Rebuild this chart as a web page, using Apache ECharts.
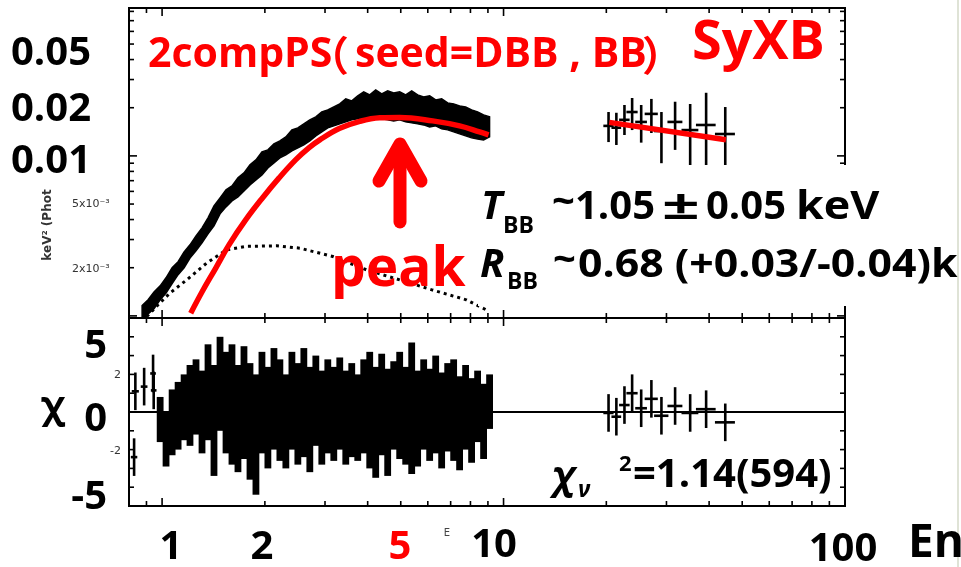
<!DOCTYPE html>
<html><head><meta charset="utf-8">
<script src="https://cdn.jsdelivr.net/npm/echarts@6/dist/echarts.min.js"></script>
<style>html,body{margin:0;padding:0;background:#fff}#c{width:961px;height:567px}</style>
</head><body><div id="c"></div>
<script>
// ---------- data ----------
// low-energy spectrum bins (keV) and flux extents (keV^2 Photons ...)
const specE = [0.874,0.910,0.947,0.987,1.027,1.070,1.114,1.160,1.207,1.257,1.309,1.363,1.419,1.478,1.539,1.602,1.668,1.737,1.809,1.883,1.961,2.041,2.126,2.213,2.304,2.400,2.498,2.601,2.708,2.820,2.936,3.057,3.183,3.314,3.451,3.593,3.741,3.895,4.056,4.223,4.397,4.578,4.768,4.964,5.169,5.383,5.603,5.836,6.076,6.328,6.588,6.861,7.143,7.435,7.743,8.062,8.395,8.741,9.101];
const specHi = [0.00116,0.00126,0.00141,0.00154,0.00173,0.00200,0.00218,0.00251,0.00278,0.00316,0.00355,0.00410,0.00487,0.00546,0.00613,0.00649,0.00729,0.00783,0.00879,0.00944,0.01059,0.01090,0.01189,0.01241,0.01314,0.01454,0.01496,0.01585,0.01679,0.01753,0.01884,0.01939,0.02024,0.02114,0.02272,0.02207,0.02371,0.02512,0.02406,0.02585,0.02441,0.02548,0.02476,0.02512,0.02406,0.02548,0.02406,0.02338,0.02371,0.02239,0.02272,0.02143,0.02114,0.02054,0.02024,0.01939,0.01884,0.01804,0.01753];
const specLo = [0.000944,0.00103,0.00111,0.00126,0.00139,0.00159,0.00181,0.00200,0.00230,0.00255,0.00286,0.00326,0.00365,0.00434,0.00480,0.00523,0.00555,0.00604,0.00659,0.00708,0.00761,0.00841,0.00904,0.00972,0.01015,0.01075,0.01122,0.01172,0.01241,0.01334,0.01413,0.01496,0.01540,0.01585,0.01631,0.01679,0.01704,0.01730,0.01730,0.01704,0.01704,0.01679,0.01655,0.01679,0.01631,0.01608,0.01585,0.01562,0.01518,0.01540,0.01475,0.01454,0.01413,0.01373,0.01334,0.01296,0.01276,0.01259,0.01314];
// residual extents (chi) on the same bins
const resHi = [null,null,null,0.8,0.0,1.2,1.6,2.0,2.5,2.8,2.2,3.6,2.5,4.0,3.2,3.6,2.5,3.5,2.6,2.0,3.2,2.4,3.4,2.8,2.0,3.2,2.6,3.4,2.4,3.0,2.2,2.8,2.4,2.9,2.2,2.6,2.0,2.8,3.2,2.4,3.1,2.3,2.7,3.2,2.4,3.7,2.2,2.8,2.3,3.0,2.1,2.6,2.8,1.9,2.5,1.8,2.2,1.5,2.0];
const resLo = [null,null,null,-1.6,-2.9,-2.3,-2.0,-1.5,-1.8,-1.2,-2.2,-1.5,-3.4,-1.0,-2.2,-2.8,-3.2,-2.5,-3.6,-4.4,-2.2,-3.0,-2.0,-2.6,-3.0,-2.0,-2.8,-2.4,-3.2,-1.8,-2.8,-2.2,-2.6,-2.0,-2.8,-2.4,-2.6,-2.2,-3.0,-3.5,-2.3,-3.4,-2.0,-2.5,-2.8,-3.3,-2.9,-2.0,-2.6,-2.2,-3.0,-2.1,-2.6,-3.1,-2.0,-2.7,-1.6,-2.5,-0.9];
// sparse lowest-energy residuals
const lowResE = [0.828,0.835,0.886,0.941,0.945];
const lowResV = [-2.4,1.1,1.35,2.05,1.15];
const lowResDE = [0.018,0.02,0.02,0.018,0.018];
// high-energy bins
const hiE  = [20.3,21.4,22.6,23.8,25.3,27.1,29.0,31.8,35.2,39.2,44.6];
const hiDE = [0.7,0.7,0.8,0.9,1.0,1.2,1.4,1.6,2.0,2.6,3.0];
const hiF  = [0.0154,0.0150,0.0168,0.0188,0.0163,0.0183,0.0143,0.0163,0.0145,0.0156,0.0137];
const hiLo = [0.0122,0.0117,0.0135,0.0145,0.0121,0.0139,0.0090,0.0109,0.0082,0.0079,0.0079];
const hiHi = [0.0188,0.0186,0.0208,0.0230,0.0208,0.0227,0.0188,0.0218,0.0211,0.0248,0.0202];
const hiRes = [-0.05,-0.25,0.37,1.0,0.2,0.7,-0.2,0.32,-0.05,0.15,-0.55];
// model curves
const modelE = [1.213,1.311,1.436,1.570,1.757,1.965,2.198,2.460,2.690,2.897,3.314,3.793,4.339,4.964,6.200,7.435,8.505,9.04];
const modelF = [0.00104,0.00142,0.00199,0.00278,0.00398,0.00544,0.00726,0.00944,0.01122,0.01259,0.01486,0.01643,0.01730,0.01740,0.01655,0.01540,0.01413,0.01353];
const modelHiE = [20.4,44.8];
const modelHiF = [0.0162,0.0126];
const dbbE = [0.902,0.987,1.055,1.181,1.351,1.546,1.769,2.164,2.533,3.162,3.968,4.964,6.200,7.779,8.902];
const dbbF = [0.00099,0.00121,0.00139,0.00168,0.00214,0.00259,0.00272,0.00274,0.00265,0.00235,0.00194,0.00168,0.00145,0.00126,0.00109];
// axes & ticks
const xRange = [0.8, 100];
const yRangeTop = [0.00097, 0.084];
const yRangeRes = [-5, 5];
const xTicks = [0.8,0.9,1,2,3,4,5,6,7,8,9,10,20,30,40,50,60,70,80,90,100];
const xMajor = [1,10,100];
const yTicksTop = [0.001,0.002,0.003,0.004,0.005,0.006,0.007,0.008,0.009,0.01,0.02,0.03,0.04,0.05,0.06,0.07,0.08];
const yMajorTop = [0.001,0.01];
const yTicksRes = [-4,-3,-2,-1,1,2,3,4];
// tick labels (slide overlay)
const xLabels = ['1','2','5','10','100'];
const yLabelsTop = ['0.05','0.02','0.01'];
const yLabelsTopSmall = ['5x10\u207B\u00B3','2x10\u207B\u00B3'];
const yLabelsRes = ['5','0','-5'];
const yLabelsResSmall = ['2','-2'];

// ---------- chart ----------
const FONT = '"Open Sans", "Noto Sans CJK JP", sans-serif';
const chart = echarts.init(document.getElementById('c'));

function xTickItem(params, api){
  const v = api.value(0), cs = params.coordSys;
  const x = api.coord([v, api.value(1)])[0];
  const L = xMajor.indexOf(v) >= 0 ? 8 : 5;
  const b = cs.y + cs.height;
  return {type:'group', children:[
    {type:'line', shape:{x1:x,y1:b,x2:x,y2:b-L}, style:{stroke:'#000',lineWidth:1.6}},
    {type:'line', shape:{x1:x,y1:cs.y,x2:x,y2:cs.y+L}, style:{stroke:'#000',lineWidth:1.6}}
  ]};
}
function yTickItem(major){
  return function(params, api){
    const v = api.value(1), cs = params.coordSys;
    const y = api.coord([api.value(0), v])[1];
    const L = major.indexOf(v) >= 0 ? 8 : 5;
    const r = cs.x + cs.width;
    return {type:'group', children:[
      {type:'line', shape:{x1:cs.x,y1:y,x2:cs.x+L,y2:y}, style:{stroke:'#000',lineWidth:1.6}},
      {type:'line', shape:{x1:r,y1:y,x2:r-L,y2:y}, style:{stroke:'#000',lineWidth:1.6}}
    ]};
  };
}
// spectrum band: one polygon through the upper and lower extents of every bin
function bandPolygon(E, LO, HI){
  return function(params, api){
    if (params.dataIndex !== 0) return null;
    const pts = [];
    for (let i = 0; i < E.length; i++) pts.push(api.coord([E[i], HI[i]]));
    for (let i = E.length - 1; i >= 0; i--) pts.push(api.coord([E[i], LO[i]]));
    return {type:'polygon', shape:{points:pts}, style:{fill:'#000', stroke:'#000', lineWidth:1.5, lineJoin:'miter'}};
  };
}
function bandItem(params, api){
  const e = api.value(0), lo = api.value(1), hi = api.value(2);
  if (isNaN(lo) || isNaN(hi)) return null;
  const p1 = api.coord([e, hi]), p2 = api.coord([e, lo]);
  const w = 6.8;
  return {type:'rect', shape:{x:p1[0]-w/2, y:p1[1], width:w, height:p2[1]-p1[1]}, style:{fill:'#000'}};
}
function crossItem(params, api){
  const e = api.value(0), c = api.value(1), lo = api.value(2), hi = api.value(3), de = api.value(4);
  const pc = api.coord([e, c]), ph = api.coord([e, hi]), pl = api.coord([e, lo]);
  const pa = api.coord([e - de, c]), pb = api.coord([e + de, c]);
  return {type:'group', children:[
    {type:'line', shape:{x1:pc[0],y1:ph[1],x2:pc[0],y2:pl[1]}, style:{stroke:'#000',lineWidth:2.6}},
    {type:'line', shape:{x1:pa[0],y1:pc[1],x2:pb[0],y2:pc[1]}, style:{stroke:'#000',lineWidth:2.6}}
  ]};
}

const hiAxis = {show:true, axisLine:{show:false}, axisTick:{show:false}, axisLabel:{show:false}, splitLine:{show:false}};

const option = {
  animation:false,
  backgroundColor:'#fff',
  grid:[
    {left:129, top:8, width:716, height:310, show:true, borderColor:'#000', borderWidth:2},
    {left:129, top:318, width:716, height:188, show:true, borderColor:'#000', borderWidth:2}
  ],
  xAxis:[
    Object.assign({type:'log', gridIndex:0, min:xRange[0], max:xRange[1]}, hiAxis),
    Object.assign({type:'log', gridIndex:1, min:xRange[0], max:xRange[1]}, hiAxis)
  ],
  yAxis:[
    Object.assign({type:'log', gridIndex:0, min:yRangeTop[0], max:yRangeTop[1]}, hiAxis),
    Object.assign({type:'value', gridIndex:1, min:yRangeRes[0], max:yRangeRes[1], interval:5}, hiAxis,
      {splitLine:{show:true, lineStyle:{color:'#000', width:2}}})
  ],
  series:[
    {type:'custom', xAxisIndex:0, yAxisIndex:0, renderItem:xTickItem, clip:false, z:5,
     data:xTicks.map(v=>[v, yRangeTop[0]])},
    {type:'custom', xAxisIndex:1, yAxisIndex:1, renderItem:xTickItem, clip:false, z:5,
     data:xTicks.map(v=>[v, 0])},
    {type:'custom', xAxisIndex:0, yAxisIndex:0, renderItem:yTickItem(yMajorTop), clip:false, z:5,
     data:yTicksTop.map(v=>[xRange[0], v])},
    {type:'custom', xAxisIndex:1, yAxisIndex:1, renderItem:yTickItem([]), clip:false, z:5,
     data:yTicksRes.map(v=>[xRange[0], v])},
    {type:'line', xAxisIndex:0, yAxisIndex:0, z:2, symbol:'none', silent:true,
     lineStyle:{color:'#000', width:3, type:[3,4]},
     data:dbbE.map((e,i)=>[e, dbbF[i]])},
    {type:'custom', xAxisIndex:0, yAxisIndex:0, renderItem:bandPolygon(specE, specLo, specHi), clip:true, z:3,
     data:specE.map((e,i)=>[e, specLo[i], specHi[i]])},
    {type:'custom', xAxisIndex:0, yAxisIndex:0, renderItem:crossItem, clip:true, z:3,
     data:hiE.map((e,i)=>[e, hiF[i], hiLo[i], hiHi[i], hiDE[i]])},
    {type:'line', xAxisIndex:0, yAxisIndex:0, z:4, symbol:'none', smooth:0.4, silent:true,
     lineStyle:{color:'#ff0000', width:5.5},
     data:modelE.map((e,i)=>[e, modelF[i]])},
    {type:'line', xAxisIndex:0, yAxisIndex:0, z:4, symbol:'none', silent:true,
     lineStyle:{color:'#ff0000', width:5.5},
     data:modelHiE.map((e,i)=>[e, modelHiF[i]])},
    {type:'custom', xAxisIndex:1, yAxisIndex:1, renderItem:bandItem, clip:true, z:3,
     data:specE.map((e,i)=>[e, resLo[i], resHi[i]])},
    {type:'custom', xAxisIndex:1, yAxisIndex:1, renderItem:crossItem, clip:true, z:3,
     data:lowResE.map((e,i)=>[e, lowResV[i], lowResV[i]-1, lowResV[i]+1, lowResDE[i]])},
    {type:'custom', xAxisIndex:1, yAxisIndex:1, renderItem:crossItem, clip:true, z:3,
     data:hiE.map((e,i)=>[e, hiRes[i], hiRes[i]-1, hiRes[i]+1, hiDE[i]])}
  ],
  graphic:[]
};

function txt(s, x, y, size, opts){
  opts = opts || {};
  return {type:'text', z:102, x:x, y:y, scaleX:opts.sx||1, rotation:opts.rotation||0,
    style:{text:s, x:0, y:0, fill:opts.fill||'#000',
      font:(opts.italic?'italic ':'')+(opts.weight||'bold')+' '+size+'px '+(opts.family||FONT),
      align:opts.align||'left', verticalAlign:'middle'}};
}
const G = option.graphic;
const SMALL = '"DejaVu Sans", sans-serif';
const CJK = '"Noto Sans CJK JP", sans-serif';
// white box under the fit-parameter text
G.push({type:'rect', z:100, shape:{x:478, y:165, width:483, height:141}, style:{fill:'#fff'}});
G.push({type:'line', z:101, shape:{x1:958,y1:0,x2:958,y2:567}, style:{stroke:'#dfe3d6', lineWidth:2}});
// left tick labels
[54,110,162].forEach((y,i)=>G.push(txt(yLabelsTop[i], 11, y, 40)));
[204,269].forEach((y,i)=>G.push(txt(yLabelsTopSmall[i], 72, y, 11, {fill:'#333', weight:'normal', family:SMALL})));
G.push(txt('keV\u00B2 (Phot', 48, 225, 12, {fill:'#333', family:SMALL, align:'center', rotation:Math.PI/2}));
[347,420,498].forEach((y,i)=>G.push(txt(yLabelsRes[i], 107, y, 40, {align:'right'})));
[375,451].forEach((y,i)=>G.push(txt(yLabelsResSmall[i], 121, y, 11, {align:'right', fill:'#333', weight:'normal', family:SMALL})));
G.push(txt('\u03C7', 53, 407, 38, {align:'center', family:'"Noto Sans", sans-serif'}));
// x labels
[[171,548],[262,548],[400,548],[494,546],[843,550]].forEach((p,i)=>G.push(txt(xLabels[i], p[0], p[1], 40, {align:'center', fill: xLabels[i]==='5' ? '#ff0000' : '#000'})));
G.push(txt('E', 447, 533, 10, {align:'center', fill:'#444', weight:'normal', family:SMALL}));
G.push(txt('En', 908, 544, 46));
// titles
G.push(txt('2compPS', 148, 55, 41, {fill:'#ff0000'}));
G.push(txt('\uFF08', 308, 55, 41, {fill:'#ff0000', family:CJK}));
G.push(txt('seed=DBB , BB', 355, 55, 41, {fill:'#ff0000'}));
G.push(txt('\uFF09', 642, 55, 41, {fill:'#ff0000', family:CJK}));
G.push(txt('SyXB', 692, 44, 54, {fill:'#ff0000'}));
G.push(txt('peak', 331, 270, 55, {fill:'#ff0000'}));
// arrow
G.push({type:'polyline', z:103, shape:{points:[[400,222],[400,146]]}, style:{stroke:'#ff0000', lineWidth:13, lineCap:'round', fill:null}});
G.push({type:'polyline', z:103, shape:{points:[[379,181],[400,144],[421,181]]}, style:{stroke:'#ff0000', lineWidth:13, lineCap:'round', lineJoin:'round', fill:null}});
// fit parameters
G.push(txt('T', 481, 208, 40, {italic:true}));
G.push(txt('BB', 503, 226, 23));
G.push(txt('~', 552, 204, 40));
G.push(txt('1.05', 575, 208, 40));
G.push(txt('\u00B1', 662, 208, 40, {sx:1.65}));
G.push(txt('0.05', 706, 208, 40));
G.push(txt('keV', 796, 208, 40, {sx:1.12}));
G.push(txt('R', 480, 266, 40, {italic:true}));
G.push(txt('BB', 507, 282, 23));
G.push(txt('~', 553, 262, 40));
G.push(txt('0.68 (+0.03/-0.04)k', 578, 266, 40, {sx:1.07}));
G.push(txt('\u03C7', 552, 478, 40, {italic:true, family:'"Noto Sans", sans-serif'}));
G.push(txt('\u03BD', 578, 490, 24, {italic:true, family:'"Noto Sans", sans-serif'}));
G.push(txt('2', 619, 465, 22));
G.push(txt('=1.14(594)', 633, 476, 40));

chart.setOption(option);
</script>
</body></html>
